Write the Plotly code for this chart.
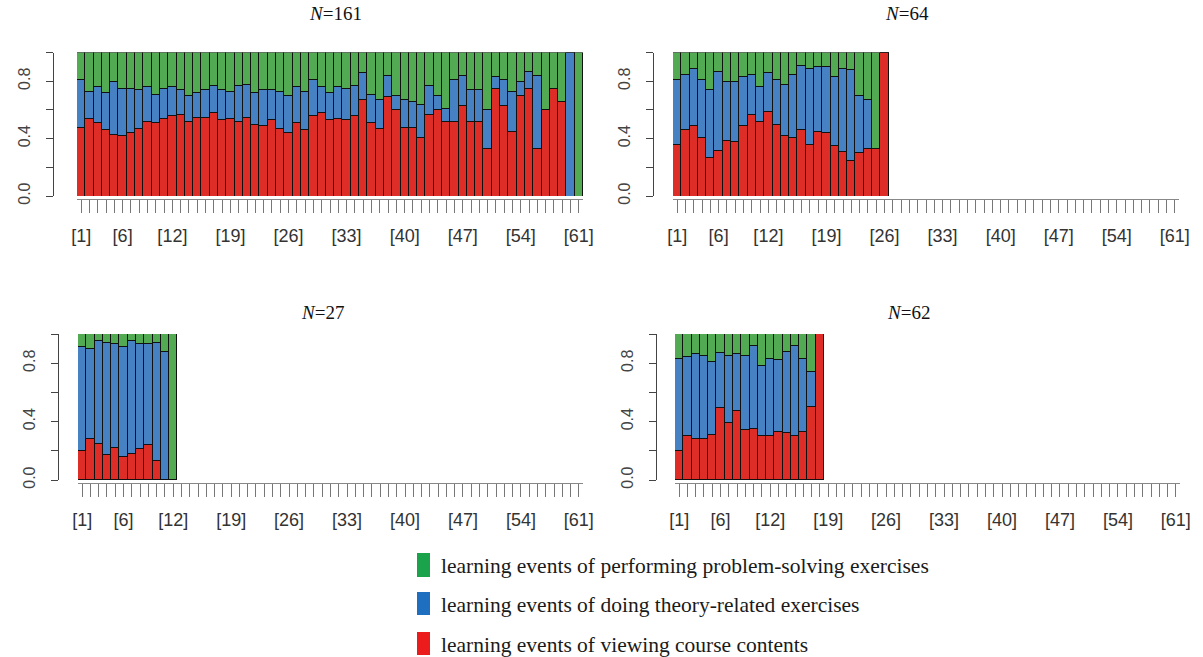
import plotly.graph_objects as go

W, H = 1203, 657

# ---------------- data ----------------
positions = list(range(1, 62))
label_positions = [1, 6, 12, 19, 26, 33, 40, 47, 54, 61]
label_texts = ["[1]", "[6]", "[12]", "[19]", "[26]", "[33]", "[40]", "[47]", "[54]", "[61]"]
series_names = [
    "learning events of viewing course contents",
    "learning events of doing theory-related exercises",
    "learning events of performing problem-solving exercises",
]
titles = ["161", "64", "27", "62"]

# proportion of viewing events (red) and cumulative top of theory events (blue)
p1_view = [0.48, 0.54, 0.51, 0.46, 0.43, 0.42, 0.44, 0.47, 0.52, 0.51,
           0.54, 0.56, 0.57, 0.52, 0.55, 0.55, 0.58, 0.53, 0.54, 0.52,
           0.55, 0.50, 0.49, 0.53, 0.47, 0.44, 0.51, 0.46, 0.56, 0.58,
           0.53, 0.54, 0.53, 0.56, 0.67, 0.51, 0.47, 0.69, 0.60, 0.48,
           0.48, 0.41, 0.57, 0.60, 0.52, 0.52, 0.63, 0.52, 0.52, 0.33,
           0.75, 0.63, 0.45, 0.70, 0.75, 0.33, 0.60, 0.75, 0.66, 0.00, 0.00]
p1_bluetop = [0.81, 0.73, 0.76, 0.72, 0.80, 0.75, 0.75, 0.74, 0.76, 0.71,
              0.75, 0.76, 0.74, 0.70, 0.72, 0.74, 0.77, 0.74, 0.73, 0.77,
              0.78, 0.72, 0.74, 0.74, 0.73, 0.70, 0.76, 0.73, 0.81, 0.76,
              0.72, 0.76, 0.75, 0.77, 0.86, 0.71, 0.67, 0.84, 0.70, 0.67,
              0.66, 0.64, 0.77, 0.70, 0.61, 0.81, 0.84, 0.74, 0.74, 0.60,
              0.83, 0.81, 0.73, 0.80, 0.87, 0.84, 0.60, 0.75, 0.66, 1.00, 0.00]

p2_view = [0.36, 0.46, 0.49, 0.41, 0.27, 0.32, 0.39, 0.38, 0.49, 0.57,
           0.52, 0.59, 0.50, 0.42, 0.41, 0.46, 0.36, 0.45, 0.44, 0.35,
           0.31, 0.25, 0.30, 0.33, 0.33, 1.00]
p2_bluetop = [0.81, 0.85, 0.89, 0.81, 0.74, 0.87, 0.80, 0.80, 0.83, 0.85,
              0.76, 0.86, 0.81, 0.78, 0.85, 0.91, 0.89, 0.90, 0.90, 0.83,
              0.89, 0.88, 0.70, 0.67, 0.33, 1.00]

p3_view = [0.20, 0.28, 0.25, 0.17, 0.22, 0.16, 0.18, 0.21, 0.24, 0.13, 0.00, 0.00]
p3_bluetop = [0.91, 0.90, 0.95, 0.94, 0.93, 0.91, 0.95, 0.93, 0.93, 0.94, 0.88, 0.00]

p4_view = [0.20, 0.30, 0.28, 0.28, 0.31, 0.49, 0.39, 0.47, 0.34, 0.35,
           0.30, 0.30, 0.33, 0.32, 0.30, 0.33, 0.50, 1.00]
p4_bluetop = [0.83, 0.84, 0.86, 0.85, 0.81, 0.87, 0.85, 0.86, 0.85, 0.92,
              0.78, 0.83, 0.82, 0.88, 0.92, 0.83, 0.74, 1.00]

panels = [(p1_view, p1_bluetop), (p2_view, p2_bluetop),
          (p3_view, p3_bluetop), (p4_view, p4_bluetop)]

# ---------------- styles ----------------
bar_colors = ["#de2d26", "#4681c3", "#52ab52"]
legend_colors = ["#ec1c1c", "#1e6fc0", "#1aa34a"]

# pixel layout: (bar-left, bar-right, bar-top, bar-bottom, yaxis-x, xaxis-y, title-x, title-y)
geom = [
    (77, 583, 52.5, 196, 53, 199, 335, 13),
    (673, 1179, 52.5, 196, 653, 199, 907, 13),
    (78, 583, 334, 480, 58, 483, 322, 312),
    (675, 1180, 334, 480, 656, 483, 908, 312),
]

fx = lambda px: px / W
fy = lambda py: 1 - py / H

fig = go.Figure()
layout = dict(
    width=W, height=H, margin=dict(l=0, r=0, t=0, b=0, autoexpand=False),
    paper_bgcolor="white", plot_bgcolor="white",
    barmode="stack", bargap=0, showlegend=False,
)

xtick_text = [label_texts[label_positions.index(p)] if p in label_positions else "" for p in positions]

annotations = []
for i, ((view, bluetop), g) in enumerate(zip(panels, geom)):
    n = len(view)
    xs = positions[:n]
    theory = [round(b - v, 3) if b > v else 0 for v, b in zip(view, bluetop)]
    problem = [round(1 - max(b, v), 3) for v, b in zip(view, bluetop)]
    xa = "x" if i == 0 else f"x{i+1}"
    ya = "y" if i == 0 else f"y{i+1}"
    for vals, col, name in zip([view, theory, problem], bar_colors, series_names):
        fig.add_trace(go.Bar(
            x=xs, y=vals, width=1, name=name, xaxis=xa, yaxis=ya,
            marker=dict(color=col, line=dict(color="#111111", width=1)),
            hoverinfo="x+y+name",
        ))
    bl, br, bt, bb, yax, xay, tx, ty = g
    key = "" if i == 0 else str(i + 1)
    layout["xaxis" + key] = dict(
        domain=[fx(bl), fx(br)], range=[0.5, 61.5], anchor="free", position=fy(xay),
        showgrid=False, zeroline=False, showline=True, linecolor="#888888", linewidth=1,
        ticks="outside", ticklen=13, tickwidth=1.4, tickcolor="#777777",
        tickvals=positions, ticktext=xtick_text, tickangle=0,
        tickfont=dict(family="Liberation Sans", size=18, color="#333333"),
        ticklabelstandoff=7, fixedrange=True, automargin=False,
    )
    layout["yaxis" + key] = dict(
        domain=[fy(bb), fy(bt)], range=[0, 1], anchor="free", position=fx(yax),
        showgrid=False, zeroline=False, showline=True, linecolor="#444444", linewidth=1.2,
        ticks="outside", ticklen=7, tickwidth=1.2, tickcolor="#444444",
        tickvals=[0, 0.2, 0.4, 0.6, 0.8, 1.0], ticktext=["0.0", "", "0.4", "", "0.8", ""],
        tickangle=-90, tickfont=dict(family="Liberation Sans", size=16, color="#444444"),
        ticklabelstandoff=10, fixedrange=True, automargin=False,
    )
    annotations.append(dict(
        xref="paper", yref="paper", x=fx(tx), y=fy(ty), xanchor="center", yanchor="middle",
        text=f"<i>N</i>={titles[i]}", showarrow=False,
        font=dict(family="Liberation Serif", size=19, color="#111111"),
    ))

# legend drawn as colour swatches + text (green, blue, red from top)
shapes = []
legend_rows = [(553, 577, 2), (592, 615, 1), (632, 655, 0)]
for top, bot, idx in legend_rows:
    shapes.append(dict(type="rect", xref="paper", yref="paper",
                       x0=fx(417), x1=fx(430), y0=fy(bot), y1=fy(top),
                       fillcolor=legend_colors[idx], line=dict(width=0)))
    annotations.append(dict(
        xref="paper", yref="paper", x=fx(439), y=fy((top + bot) / 2 + 1),
        xanchor="left", yanchor="middle", text=series_names[idx], showarrow=False,
        font=dict(family="Liberation Serif", size=21.5, color="#1a1a1a"),
    ))

layout["annotations"] = annotations
layout["shapes"] = shapes
fig.update_layout(**layout)
# remove the browser's default 8px body margin so the figure fills the window exactly
fig.write_html("out.html", config={"displayModeBar": False},
               post_script="document.body.style.margin='0';")
